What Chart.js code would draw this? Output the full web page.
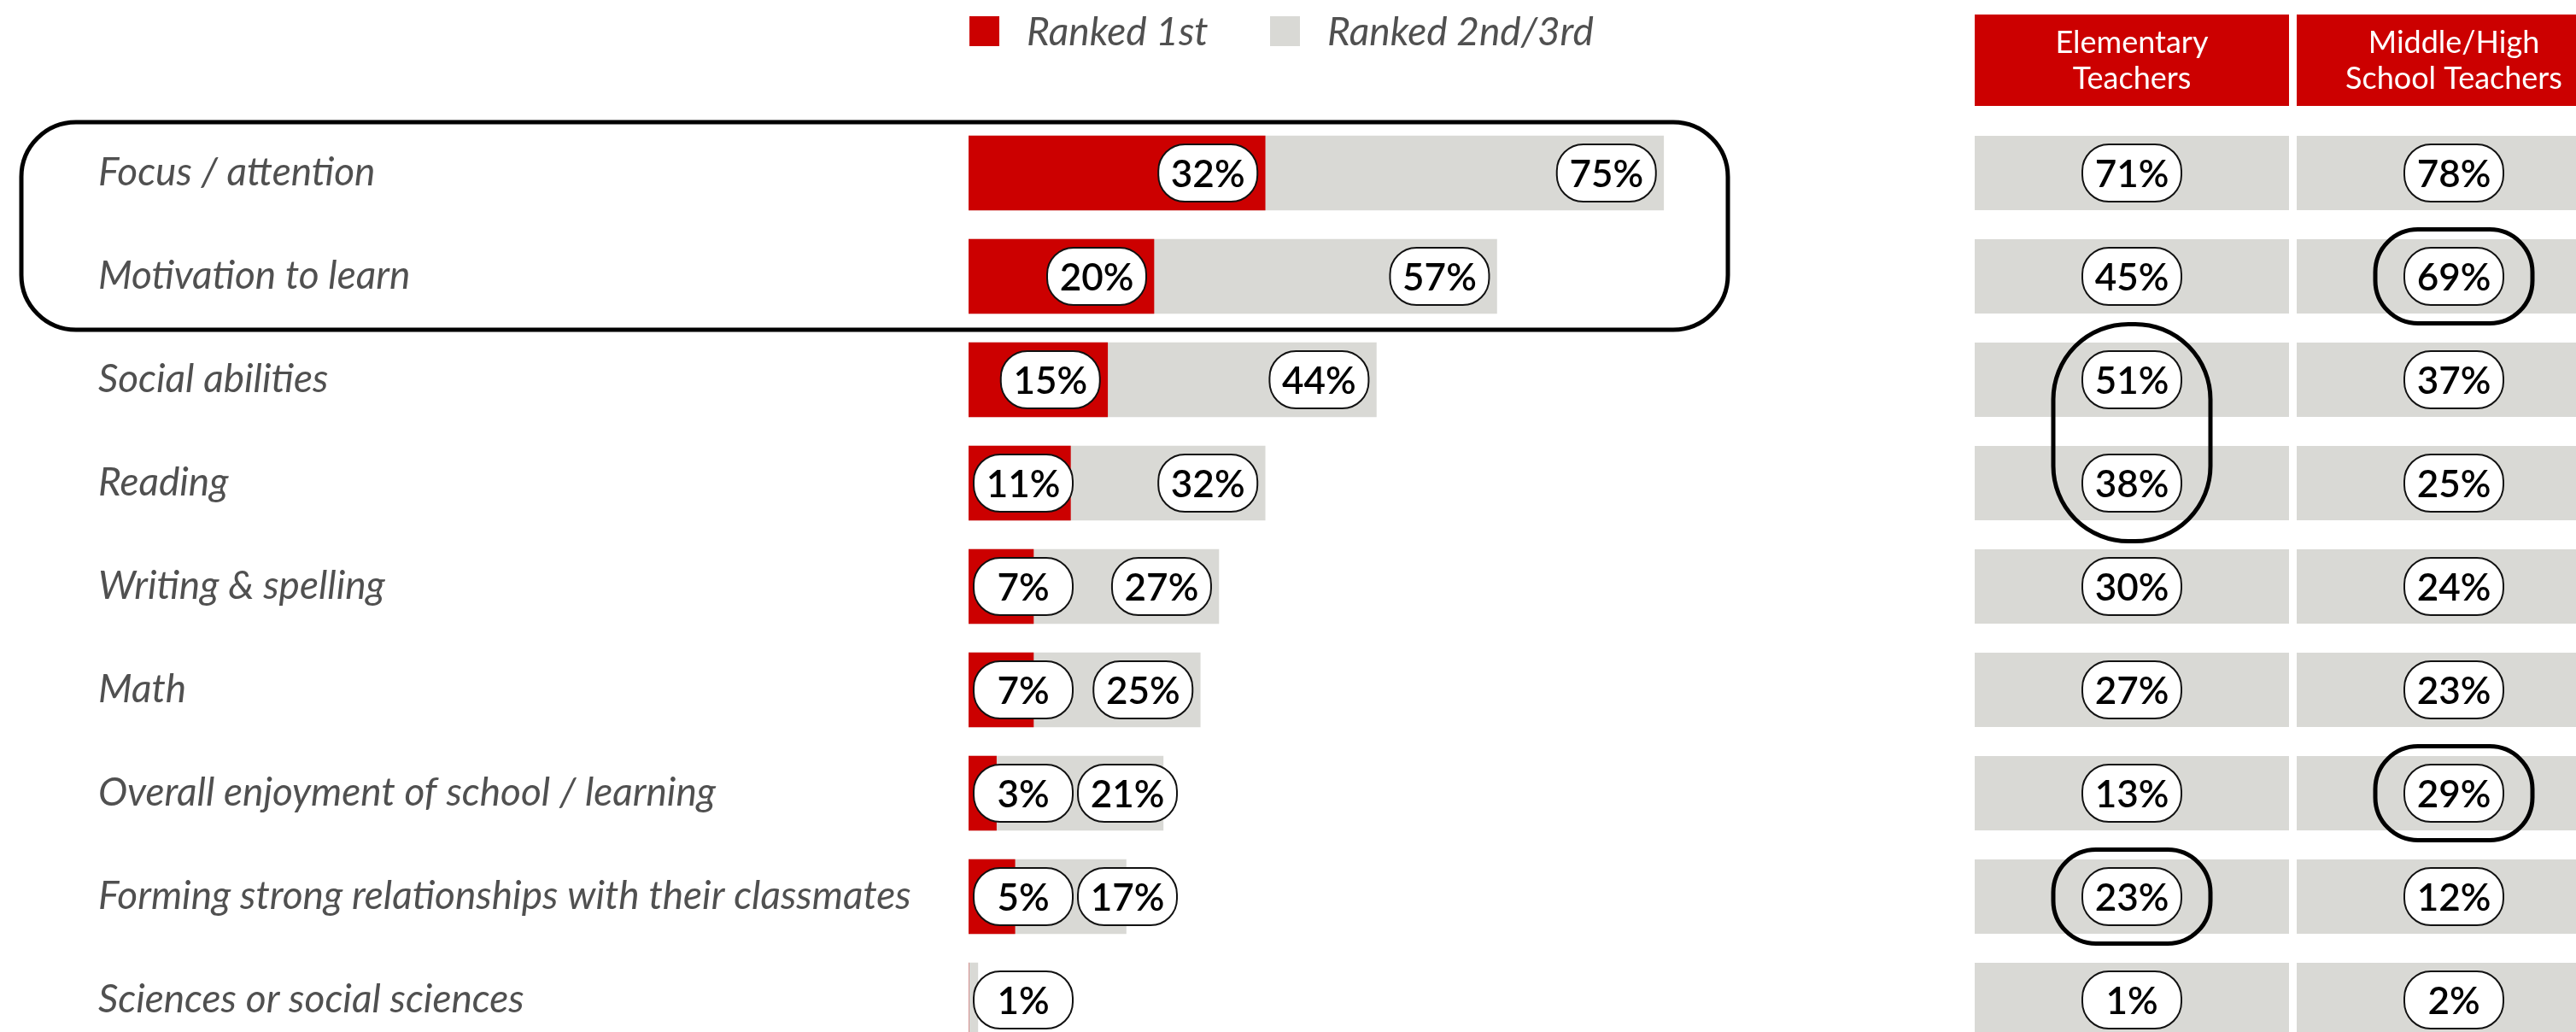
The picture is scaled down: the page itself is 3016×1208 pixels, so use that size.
<!DOCTYPE html>
<html>
<head>
<meta charset="utf-8">
<title>Skills ranked</title>
<script src="https://cdn.jsdelivr.net/npm/chart.js@4.4.1/dist/chart.umd.min.js"></script>
<style>
  html, body { margin: 0; padding: 0; background: #fff; overflow: hidden; }
  #wrap { position: absolute; left: 0; top: 0; width: 3060px; height: 1272px; }
  #myChart { display: block; width: 3060px; height: 1272px; }
</style>
</head>
<body>
<div id="wrap"><canvas id="myChart" width="3060" height="1272" style="width:3060px;height:1272px"></canvas></div>
<script>
// categorie (righe)
var categories = [
  'Focus / attention',
  'Motivation to learn',
  'Social abilities',
  'Reading',
  'Writing & spelling',
  'Math',
  'Overall enjoyment of school / learning',
  'Forming strong relationships with their classmates',
  'Sciences or social sciences'
];
var rankedFirst = [32, 20, 15, 11, 7, 7, 3, 5, 0];     // rosso
var rankedTop3  = [75, 57, 44, 32, 27, 25, 21, 17, 1]; // grigio (1st + 2nd/3rd)
var elementary  = [71, 45, 51, 38, 30, 27, 13, 23, 1];
var middleHigh  = [78, 69, 37, 25, 24, 23, 29, 12, 2];
var columnTitles = [['Elementary', 'Teachers'], ['Middle/High', 'School Teachers']];
var legendLabels = ['Ranked 1st', 'Ranked 2nd/3rd'];

// righe cerchiate: [prima, ultima]
var boxedRows = [0, 1];
var circledElementary = [[2, 3], [7, 7]];
var circledMiddle = [[1, 1], [6, 6]];

var RED = '#cc0000';
var GRAY = '#d9d9d5';
var LABEL_COLOR = '#505050';
var LABEL_FONT = 'italic 400 46px Lato';

var PILL_W = 116, PILL_H = 67;
var COL_X = [2312, 2689], COL_W = 368;

function roundRect(ctx, x, y, w, h, r) {
  r = Math.min(r, w / 2, h / 2);
  ctx.beginPath();
  ctx.moveTo(x + r, y);
  ctx.lineTo(x + w - r, y);
  ctx.arcTo(x + w, y, x + w, y + r, r);
  ctx.lineTo(x + w, y + h - r);
  ctx.arcTo(x + w, y + h, x + w - r, y + h, r);
  ctx.lineTo(x + r, y + h);
  ctx.arcTo(x, y + h, x, y + h - r, r);
  ctx.lineTo(x, y + r);
  ctx.arcTo(x, y, x + r, y, r);
  ctx.closePath();
}

function pill(ctx, cx, cy, text) {
  roundRect(ctx, cx - PILL_W / 2, cy - PILL_H / 2, PILL_W, PILL_H, 31);
  ctx.fillStyle = '#fff';
  ctx.fill();
  ctx.lineWidth = 2;
  ctx.strokeStyle = '#111';
  ctx.stroke();
  ctx.fillStyle = '#000';
  ctx.font = '600 44px Lato';
  ctx.textAlign = 'center';
  ctx.textBaseline = 'middle';
  ctx.fillText(text, cx, cy + 2);
}

function outline(ctx, x, y, w, h, r) {
  roundRect(ctx, x, y, w, h, r);
  ctx.lineWidth = 5;
  ctx.strokeStyle = '#000';
  ctx.stroke();
}

var extras = {
  id: 'extras',
  afterDatasetsDraw: function(chart) {
    var ctx = chart.ctx;
    var xs = chart.scales.x, ys = chart.scales.y;
    var left = xs.getPixelForValue(0);
    var band = ys.getPixelForValue(1) - ys.getPixelForValue(0);
    ctx.save();

    // etichette sulle barre
    for (var i = 0; i < categories.length; i++) {
      var cy = ys.getPixelForValue(i);
      var redRight = left;
      if (rankedFirst[i] > 0) {
        redRight = Math.max(xs.getPixelForValue(rankedFirst[i]) - 9, left + 6 + PILL_W);
        pill(ctx, redRight - PILL_W / 2, cy, rankedFirst[i] + '%');
      }
      var grayRight = Math.max(xs.getPixelForValue(rankedTop3[i]) - 9, redRight + 6 + PILL_W);
      pill(ctx, grayRight - PILL_W / 2, cy, rankedTop3[i] + '%');
    }

    // colonne a destra: intestazioni, celle, percentuali
    var cols = [elementary, middleHigh];
    for (var c = 0; c < 2; c++) {
      var cx = COL_X[c] + COL_W / 2;
      ctx.fillStyle = RED;
      ctx.fillRect(COL_X[c], 17, COL_W, 107);
      ctx.fillStyle = '#fff';
      ctx.font = '36px Lato';
      ctx.textAlign = 'center';
      ctx.textBaseline = 'alphabetic';
      ctx.fillText(columnTitles[c][0], cx, 62);
      ctx.fillText(columnTitles[c][1], cx, 104);
      for (var r = 0; r < cols[c].length; r++) {
        var y = ys.getPixelForValue(r);
        ctx.fillStyle = GRAY;
        ctx.fillRect(COL_X[c], y - 43.5, COL_W, 87);
        pill(ctx, cx, y, cols[c][r] + '%');
      }
    }

    // riquadro sulle prime due righe
    var top = ys.getPixelForValue(boxedRows[0]) - band / 2;
    var bottom = ys.getPixelForValue(boxedRows[1]) + band / 2;
    outline(ctx, 25, top + 1, 1998, bottom - top + 1, 64);

    // cerchi nelle colonne
    var rings = [[0, circledElementary], [1, circledMiddle]];
    rings.forEach(function(rg) {
      var cx = COL_X[rg[0]] + COL_W / 2;
      rg[1].forEach(function(span) {
        var single = span[0] === span[1];
        var y0 = ys.getPixelForValue(span[0]) - (single ? 55 : 65);
        var y1 = ys.getPixelForValue(span[1]) + (single ? 55 : 68);
        outline(ctx, cx - 92, y0, 184, y1 - y0, single ? 50 : 88);
      });
    });

    // legenda
    var lx = [1135, 1487];
    chart.data.datasets.forEach(function(ds, k) {
      ctx.fillStyle = ds.backgroundColor;
      ctx.fillRect(lx[k], 19, 35, 35);
      ctx.fillStyle = LABEL_COLOR;
      ctx.font = LABEL_FONT;
      ctx.textAlign = 'left';
      ctx.textBaseline = 'middle';
      ctx.fillText(legendLabels[k], lx[k] + 67, 38);
    });
    ctx.restore();
  }
};

var chart = new Chart(document.getElementById('myChart').getContext('2d'), {
  type: 'bar',
  data: {
    labels: categories,
    datasets: [
      { label: legendLabels[0], data: rankedFirst, backgroundColor: RED, grouped: false, barThickness: 87 },
      { label: legendLabels[1], data: rankedTop3, backgroundColor: GRAY, grouped: false, barThickness: 87 }
    ]
  },
  options: {
    indexAxis: 'y',
    responsive: false,
    animation: false,
    layout: { padding: { left: 115, top: 142, right: 841, bottom: 41 } },
    plugins: { legend: { display: false }, tooltip: { enabled: false } },
    scales: {
      x: { display: false, min: 0, max: 100 },
      y: {
        grid: { display: false },
        border: { display: false },
        ticks: {
          crossAlign: 'far',
          padding: 0,
          color: LABEL_COLOR,
          font: { family: 'Lato', style: 'italic', weight: '400', size: 46 }
        },
        afterFit: function(scale) { scale.width = 1019; }
      }
    }
  },
  plugins: [extras]
});
</script>
</body>
</html>
